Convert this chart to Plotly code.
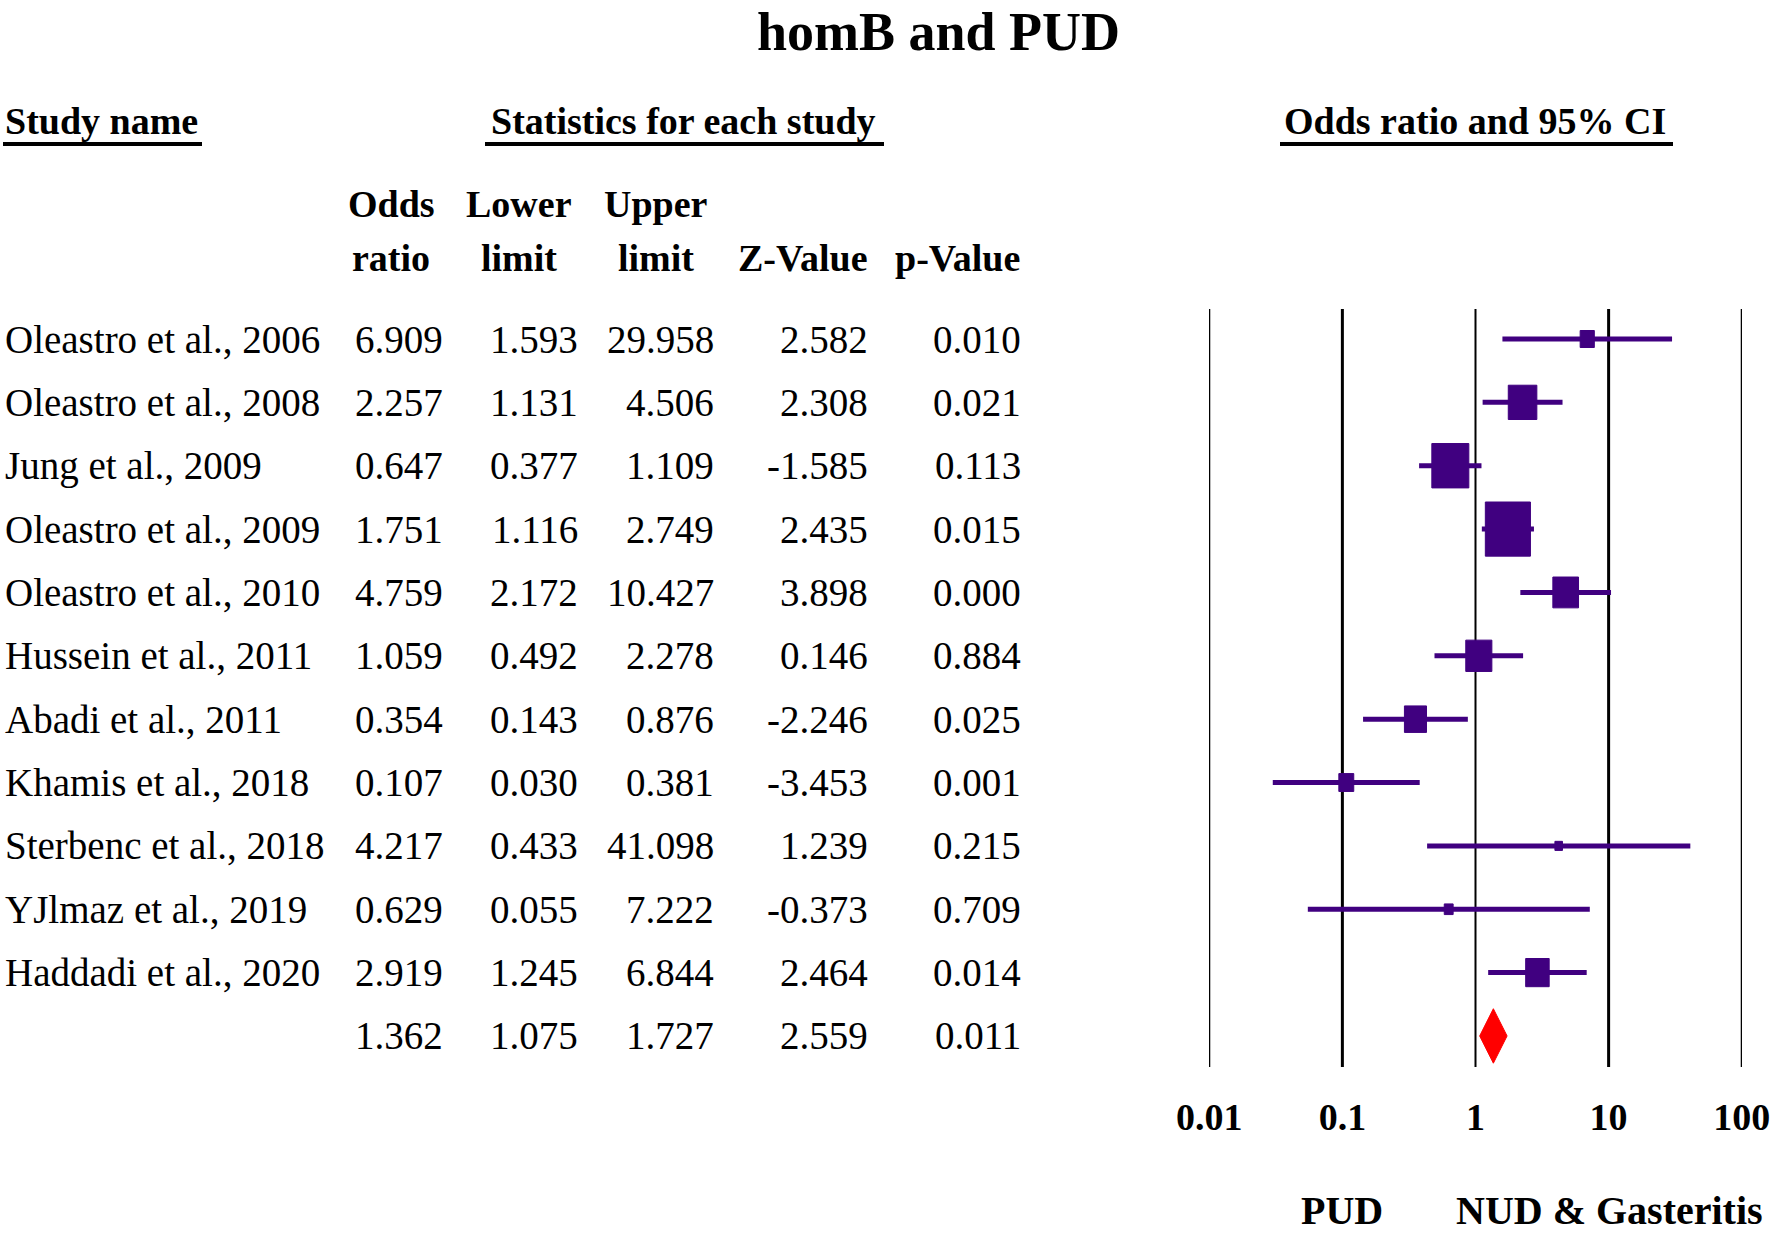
import math
import plotly.graph_objects as go

# Figure size (px)
W, H = 1770, 1236

# Study data
studies = [
    "Oleastro et al., 2006", "Oleastro et al., 2008", "Jung et al., 2009",
    "Oleastro et al., 2009", "Oleastro et al., 2010", "Hussein et al., 2011",
    "Abadi et al., 2011", "Khamis et al., 2018", "Sterbenc et al., 2018",
    "YJlmaz et al., 2019", "Haddadi et al., 2020",
]
odds_ratio = [6.909, 2.257, 0.647, 1.751, 4.759, 1.059, 0.354, 0.107, 4.217, 0.629, 2.919]
lower_limit = [1.593, 1.131, 0.377, 1.116, 2.172, 0.492, 0.143, 0.030, 0.433, 0.055, 1.245]
upper_limit = [29.958, 4.506, 1.109, 2.749, 10.427, 2.278, 0.876, 0.381, 41.098, 7.222, 6.844]
z_value = [2.582, 2.308, -1.585, 2.435, 3.898, 0.146, -2.246, -3.453, 1.239, -0.373, 2.464]
p_value = [0.010, 0.021, 0.113, 0.015, 0.000, 0.884, 0.025, 0.001, 0.215, 0.709, 0.014]
# relative weights (%)
weights = [2.8, 11.4, 19.1, 28.4, 9.2, 9.5, 6.8, 3.1, 0.8, 1.1, 7.7]

# Pooled estimate
pooled_or = 1.362
pooled_lower = 1.075
pooled_upper = 1.727
pooled_z = 2.559
pooled_p = 0.011

# Axis ticks
tick_vals = [0.01, 0.1, 1, 10, 100]
tick_text = ["0.01", "0.1", "1", "10", "100"]

# ---- layout constants (pixels) ----
FONT = "Liberation Serif, Times New Roman, serif"
INK = "#400080"
X_DOM = (1209 / W, 1742 / W)
X_RANGE = (-2.002, 2.002)
PLOT_BOTTOM_PX = 1067
Y_DOM = (1 - PLOT_BOTTOM_PX / H, 1)
ROW0_PX = 339
ROW_PX = 63.36
PX_PER_DEC = (X_DOM[1] - X_DOM[0]) * W / (X_RANGE[1] - X_RANGE[0])

y_top = -ROW0_PX / ROW_PX
y_bot = y_top + PLOT_BOTTOM_PX / ROW_PX

rows = list(range(len(studies)))
pooled_row = len(studies)

fig = go.Figure()

# Confidence interval lines
ci_x, ci_y = [], []
for i, lo, hi in zip(rows, lower_limit, upper_limit):
    ci_x += [lo, hi, None]
    ci_y += [i, i, None]
fig.add_trace(go.Scatter(x=ci_x, y=ci_y, mode="lines",
                         line=dict(color=INK, width=5), hoverinfo="skip"))

# Weight boxes (area proportional to weight)
box_x, box_y = [], []
for i, orr, wt in zip(rows, odds_ratio, weights):
    w_px = math.sqrt(wt * 86 / 1.2)
    h_px = 1.2 * w_px
    dx = 10 ** (w_px / 2 / PX_PER_DEC)
    dy = h_px / 2 / ROW_PX
    box_x += [orr / dx, orr * dx, orr * dx, orr / dx, orr / dx, None]
    box_y += [i - dy, i - dy, i + dy, i + dy, i - dy, None]
fig.add_trace(go.Scatter(x=box_x, y=box_y, mode="lines", fill="toself",
                         fillcolor=INK, line=dict(color=INK, width=1),
                         hoverinfo="skip"))

# Pooled diamond
dh = 0.43
fig.add_trace(go.Scatter(
    x=[pooled_lower, pooled_or, pooled_upper, pooled_or, pooled_lower],
    y=[pooled_row, pooled_row - dh, pooled_row, pooled_row + dh, pooled_row],
    mode="lines", fill="toself", fillcolor="#ff0000",
    line=dict(color="#ff0000", width=1), hoverinfo="skip"))

# Vertical reference lines
for v, lw in zip(tick_vals, [2, 3, 2, 3, 2]):
    fig.add_shape(type="line", xref="x", yref="paper", x0=v, x1=v,
                  y0=Y_DOM[0], y1=1 - 309 / H,
                  line=dict(color="black", width=lw), layer="below")

# Table text
cols_right = [445, 580, 716, 870, 1023]
table = [odds_ratio, lower_limit, upper_limit, z_value, p_value]
pooled_vals = [pooled_or, pooled_lower, pooled_upper, pooled_z, pooled_p]

annotations = []
for i, name in zip(rows, studies):
    annotations.append(dict(x=3 / W, y=i, xref="paper", yref="y", text=name,
                            xanchor="left", yanchor="middle", showarrow=False,
                            font=dict(size=39, family=FONT, color="black")))
for col_px, vals, pv in zip(cols_right, table, pooled_vals):
    for i, v in zip(rows + [pooled_row], vals + [pv]):
        annotations.append(dict(x=col_px / W, y=i, xref="paper", yref="y",
                                text=f"{v:.3f}", xanchor="right", yanchor="middle",
                                showarrow=False,
                                font=dict(size=39, family=FONT, color="black")))

# Headers
def paper_text(x_px, y_px, text, size, anchor="center"):
    annotations.append(dict(x=x_px / W, y=1 - y_px / H, xref="paper", yref="paper",
                            text=f"<b>{text}</b>", xanchor=anchor, yanchor="middle",
                            showarrow=False,
                            font=dict(size=size, family=FONT, color="black")))

paper_text(939, 32, "homB and PUD", 54)
paper_text(3, 121, "Study name", 38, "left")
paper_text(683, 121, "Statistics for each study", 38)
paper_text(1475, 121, "Odds ratio and 95% CI", 38)
for x_px, top, bottom in [(391, "Odds", "ratio"), (519, "Lower", "limit"),
                          (656, "Upper", "limit"), (803, "", "Z-Value"),
                          (957, "", "p-Value")]:
    if top:
        paper_text(x_px, 204, top, 38)
    paper_text(x_px, 258, bottom, 38)
paper_text(1342, 1210, "PUD", 40)
paper_text(1609, 1210, "NUD &amp; Gasteritis", 40)

# Header underlines
for x0, x1 in [(3, 202), (485, 884), (1280, 1673)]:
    fig.add_shape(type="line", xref="paper", yref="paper",
                  x0=x0 / W, x1=x1 / W, y0=1 - 144 / H, y1=1 - 144 / H,
                  line=dict(color="black", width=4))

fig.update_layout(
    width=W, height=H,
    margin=dict(l=0, r=0, t=0, b=0, autoexpand=False),
    paper_bgcolor="white", plot_bgcolor="white",
    showlegend=False,
    annotations=annotations,
    xaxis=dict(type="log", domain=list(X_DOM), range=list(X_RANGE),
               tickvals=tick_vals, ticktext=[f"<b>{t}</b>" for t in tick_text],
               tickfont=dict(size=38, family=FONT, color="black"),
               showgrid=False, zeroline=False, showline=False, ticks="",
               ticklabelstandoff=24, ticklabeloverflow="allow",
               automargin=False),
    yaxis=dict(domain=list(Y_DOM), range=[y_bot, y_top], visible=False,
               automargin=False),
)

fig.write_html("out.html", config={"displayModeBar": False},
               post_script="document.body.style.margin='0';")
